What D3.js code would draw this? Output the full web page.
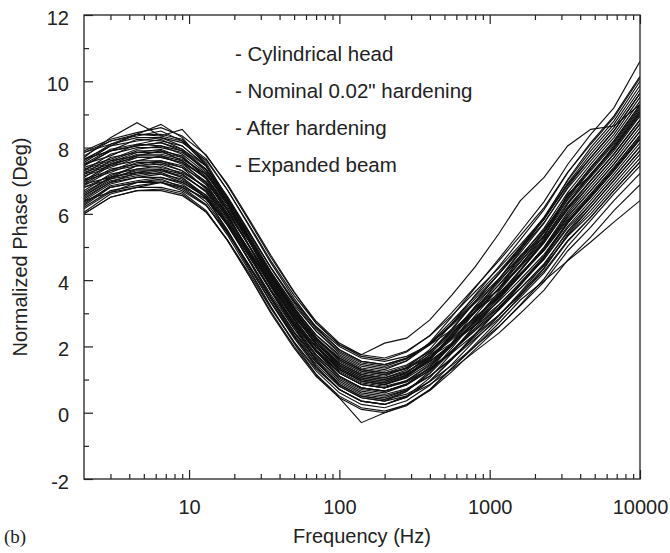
<!DOCTYPE html>
<html>
<head>
<meta charset="utf-8">
<script src="https://cdn.jsdelivr.net/npm/d3@7"></script>
<style>
  body { margin: 0; background: #fff; }
  .tick text { font-family: "Liberation Sans", Arial, sans-serif; font-size: 20px; fill: #222; }
  .domain { display: none; }
  .tick line { stroke: #222; stroke-width: 1.2; }
</style>
</head>
<body>
<div class="chart"></div>
<script>
// Frequencies (Hz) where each run was sampled
var freqs = [2, 3, 4.5, 6.5, 9, 13, 18, 25, 35, 50, 70, 100, 140, 200, 280, 400, 560, 800, 1150, 1600, 2300, 3300, 4700, 6700, 10000];

// Normalized phase (deg) of every measured run
var run01 = [7.9, 8.25, 8.45, 8.6, 8.35, 7.78, 6.86, 5.8, 4.69, 3.63, 2.76, 2.1, 1.75, 1.65, 1.86, 2.32, 2.93, 3.65, 4.36, 5.07, 5.88, 6.89, 7.7, 8.5, 9.64];
var run02 = [7.75, 8.2, 8.35, 8.5, 8.2, 7.66, 6.72, 5.64, 4.52, 3.45, 2.57, 1.9, 1.55, 1.45, 1.64, 2.07, 2.64, 3.31, 3.98, 4.66, 5.44, 6.42, 7.2, 8.0, 9.06];
var run03 = [7.6, 8.1, 8.3, 8.3, 8.15, 7.61, 6.72, 5.68, 4.58, 3.54, 2.7, 2.05, 1.7, 1.6, 1.83, 2.33, 3.02, 3.8, 4.58, 5.34, 6.19, 7.25, 8.1, 8.9, 10.1];
var run04 = [7.65, 7.9, 8.25, 8.2, 8.05, 7.44, 6.48, 5.39, 4.26, 3.18, 2.28, 1.6, 1.25, 1.15, 1.35, 1.79, 2.37, 3.06, 3.74, 4.43, 5.22, 6.21, 7.0, 7.8, 8.83];
var run05 = [7.5, 7.95, 8.1, 8.25, 7.95, 7.44, 6.53, 5.47, 4.37, 3.31, 2.46, 1.8, 1.45, 1.35, 1.57, 2.05, 2.69, 3.44, 4.18, 4.91, 5.74, 6.77, 7.6, 8.4, 9.52];
var run06 = [7.45, 7.9, 8.05, 8.15, 7.9, 7.32, 6.34, 5.23, 4.09, 3.0, 2.09, 1.4, 1.05, 0.95, 1.13, 1.54, 2.08, 2.72, 3.36, 4.02, 4.78, 5.74, 6.5, 7.3, 8.25];
var run07 = [7.3, 7.8, 8.0, 8.0, 7.85, 7.34, 6.48, 5.46, 4.38, 3.35, 2.53, 1.9, 1.55, 1.45, 1.65, 2.09, 2.67, 3.36, 4.04, 4.73, 5.52, 6.51, 7.3, 8.1, 9.18];
var run08 = [7.4, 7.65, 7.95, 8.05, 7.8, 7.22, 6.29, 5.22, 4.1, 3.04, 2.17, 1.5, 1.15, 1.05, 1.29, 1.82, 2.54, 3.36, 4.18, 4.96, 5.84, 6.92, 7.8, 8.6, 9.75];
var run09 = [7.2, 7.7, 7.85, 7.95, 7.7, 7.12, 6.14, 5.03, 3.89, 2.8, 1.89, 1.2, 0.85, 0.75, 0.93, 1.33, 1.85, 2.48, 3.1, 3.75, 4.5, 5.45, 6.2, 7.0, 7.91];
var run10 = [7.3, 7.55, 7.85, 7.85, 7.7, 7.18, 6.31, 5.28, 4.2, 3.16, 2.34, 1.7, 1.35, 1.25, 1.44, 1.86, 2.41, 3.07, 3.72, 4.39, 5.16, 6.13, 6.9, 7.7, 8.72];
var run11 = [7.1, 7.6, 7.75, 7.9, 7.6, 7.06, 6.12, 5.04, 3.92, 2.85, 1.97, 1.3, 0.95, 0.85, 1.08, 1.59, 2.28, 3.07, 3.86, 4.62, 5.48, 6.54, 7.4, 8.2, 9.29];
var run12 = [7.2, 7.45, 7.75, 7.75, 7.6, 7.08, 6.21, 5.19, 4.1, 3.07, 2.24, 1.6, 1.25, 1.15, 1.33, 1.73, 2.25, 2.88, 3.5, 4.15, 4.9, 5.85, 6.6, 7.4, 8.37];
var run13 = [7.0, 7.5, 7.7, 7.7, 7.55, 6.92, 5.94, 4.83, 3.69, 2.6, 1.69, 1.0, 0.65, 0.55, 0.72, 1.11, 1.62, 2.23, 2.84, 3.48, 4.22, 5.16, 5.9, 6.7, 7.57];
var run14 = [6.95, 7.45, 7.6, 7.75, 7.5, 6.97, 6.09, 5.05, 3.97, 2.92, 2.09, 1.45, 1.1, 1.0, 1.21, 1.68, 2.3, 3.02, 3.74, 4.46, 5.27, 6.29, 7.1, 7.9, 8.95];
var run15 = [7.05, 7.3, 7.6, 7.6, 7.45, 6.88, 5.96, 4.9, 3.79, 2.73, 1.86, 1.2, 0.85, 0.75, 0.96, 1.42, 2.03, 2.75, 3.46, 4.17, 4.98, 5.99, 6.8, 7.6, 8.6];
var run16 = [6.9, 7.35, 7.5, 7.6, 7.4, 6.95, 6.15, 5.18, 4.12, 3.13, 2.35, 1.75, 1.4, 1.3, 1.56, 2.12, 2.9, 3.77, 4.64, 5.46, 6.37, 7.49, 8.4, 9.2, 10.6];
var run17 = [6.85, 7.3, 7.45, 7.55, 7.3, 6.78, 5.86, 4.8, 3.69, 2.63, 1.76, 1.1, 0.75, 0.65, 0.84, 1.27, 1.84, 2.51, 3.18, 3.86, 4.64, 5.62, 6.4, 7.2, 8.14];
var run18 = [6.8, 7.15, 7.45, 7.5, 7.3, 6.79, 5.93, 4.91, 3.83, 2.8, 1.98, 1.35, 1.0, 0.9, 1.14, 1.65, 2.35, 3.15, 3.94, 4.71, 5.57, 6.64, 7.5, 8.3, 9.4];
var run19 = [6.7, 7.2, 7.35, 7.45, 7.2, 6.65, 5.7, 4.61, 3.49, 2.41, 1.53, 0.85, 0.5, 0.4, 0.56, 0.94, 1.43, 2.01, 2.6, 3.23, 3.95, 4.88, 5.6, 6.4, 7.22];
var run20 = [6.8, 7.05, 7.35, 7.35, 7.2, 6.68, 5.81, 4.79, 3.7, 2.67, 1.84, 1.2, 0.85, 0.75, 0.97, 1.45, 2.09, 2.84, 3.58, 4.31, 5.14, 6.17, 7.0, 7.8, 8.83];
var run21 = [6.6, 7.1, 7.3, 7.3, 7.15, 6.7, 5.9, 4.93, 3.88, 2.88, 2.1, 1.5, 1.15, 1.05, 1.24, 1.66, 2.21, 2.87, 3.52, 4.19, 4.96, 5.93, 6.7, 7.5, 8.49];
var run22 = [6.55, 7.05, 7.2, 7.3, 7.1, 6.55, 5.65, 4.6, 3.5, 2.45, 1.6, 0.95, 0.6, 0.5, 0.68, 1.1, 1.65, 2.3, 2.94, 3.6, 4.37, 5.34, 6.1, 6.9, 7.8];
var run23 = [6.5, 6.95, 7.25, 7.2, 7.05, 6.46, 5.52, 4.44, 3.32, 2.25, 1.37, 0.7, 0.35, 0.25, 0.5, 1.05, 1.8, 2.65, 3.5, 4.3, 5.2, 6.3, 7.2, 8.0, 9.06];
var run24 = [6.45, 6.95, 7.1, 7.2, 6.95, 6.5, 5.65, 4.64, 3.56, 2.54, 1.73, 1.1, 0.75, 0.65, 0.85, 1.29, 1.87, 2.56, 3.24, 3.93, 4.72, 5.71, 6.5, 7.3, 8.26];
var run25 = [6.4, 6.9, 7.1, 7.1, 6.95, 6.5, 5.7, 4.73, 3.68, 2.68, 1.9, 1.3, 0.95, 0.85, 1.1, 1.64, 2.37, 3.21, 4.04, 4.83, 5.72, 6.81, 7.7, 8.5, 9.64];
var run26 = [6.3, 6.85, 7.0, 7.1, 6.9, 6.36, 5.47, 4.43, 3.34, 2.29, 1.45, 0.8, 0.45, 0.35, 0.5, 0.85, 1.3, 1.85, 2.4, 3.0, 3.7, 4.6, 5.3, 6.1, 6.88];
var run27 = [6.25, 6.8, 6.95, 7.05, 6.8, 6.28, 5.36, 4.3, 3.19, 2.13, 1.26, 0.6, 0.25, 0.15, 0.36, 0.83, 1.46, 2.19, 2.92, 3.64, 4.46, 5.48, 6.3, 7.1, 8.03];
var run28 = [6.2, 6.7, 6.85, 6.95, 6.75, 6.26, 5.42, 4.42, 3.35, 2.33, 1.52, 0.9, 0.55, 0.45, 0.68, 1.18, 1.85, 2.63, 3.4, 4.15, 5.0, 6.05, 6.9, 7.7, 8.72];
var run29 = [6.05, 6.6, 6.8, 6.8, 6.65, 6.1, 5.2, 4.15, 3.05, 2.0, 1.15, 0.5, 0.15, 0.05, 0.24, 0.67, 1.24, 1.91, 2.58, 3.26, 4.04, 5.02, 5.8, 6.6, 7.45];
var run30 = [6.0, 6.5, 6.7, 6.7, 6.55, 6.06, 5.22, 4.22, 3.15, 2.13, 1.32, 0.7, 0.35, 0.25, 0.47, 0.96, 1.62, 2.38, 3.14, 3.88, 4.72, 5.76, 6.6, 7.4, 8.37];
var run31 = [7.7, 8.3, 8.75, 8.35, 8.55, 7.75, 6.9, 5.85, 4.75, 3.65, 2.7, 2.05, 1.75, 2.1, 2.25, 2.8, 3.55, 4.4, 5.4, 6.4, 7.1, 8.05, 8.55, 8.65, 9.3];
var run32 = [6.0, 6.5, 6.7, 6.75, 6.6, 6.05, 5.2, 4.15, 3.0, 1.95, 1.1, 0.45, -0.3, 0.0, 0.25, 0.7, 1.35, 2.0, 2.7, 3.4, 3.98, 4.58, 5.15, 5.75, 6.4];
var run33 = [7.5, 7.75, 8.1, 8.05, 7.9, 7.27, 6.29, 5.18, 4.04, 2.95, 2.04, 1.35, 1.0, 0.9, 1.12, 1.61, 2.27, 3.2, 3.7, 4.75, 5.3, 6.6, 7.15, 8.05, 9.12];
var run34 = [6.4, 6.65, 6.95, 6.95, 6.8, 6.45, 5.75, 4.85, 3.85, 2.9, 2.2, 1.65, 1.3, 1.2, 1.34, 1.68, 2.1, 2.63, 3.16, 3.75, 4.43, 5.32, 6.0, 6.8, 7.68];
var run35 = [7.65, 8.05, 8.4, 8.35, 8.2, 7.46, 6.37, 5.18, 3.98, 2.84, 1.85, 1.1, 0.75, 0.65, 0.87, 1.36, 2.02, 2.78, 3.54, 4.28, 5.12, 6.16, 7.0, 7.8, 8.83];
var run36 = [7.85, 8.2, 8.4, 8.7, 8.3, 7.48, 6.31, 5.06, 3.83, 2.64, 1.59, 0.8, 0.45, 0.35, 0.64, 1.26, 2.11, 3.07, 4.02, 4.89, 5.86, 7.03, 8.0, 8.8, 10.0];
var run37 = [7.55, 8.05, 8.2, 8.3, 8.05, 7.45, 6.45, 5.32, 4.18, 3.07, 2.15, 1.45, 1.1, 1.0, 1.17, 1.56, 2.06, 2.66, 3.26, 3.9, 4.63, 5.57, 6.3, 7.1, 8.03];
var run38 = [7.15, 7.4, 7.7, 7.7, 7.55, 7.09, 6.28, 5.3, 4.25, 3.24, 2.46, 1.85, 1.5, 1.4, 1.62, 2.1, 2.76, 3.51, 4.26, 5.0, 5.83, 6.87, 7.7, 8.5, 9.64];
var run39 = [6.9, 7.1, 7.45, 7.4, 7.25, 6.81, 6.02, 5.05, 4.01, 3.01, 2.25, 1.65, 1.3, 1.2, 1.4, 1.85, 2.45, 3.15, 3.85, 4.55, 5.35, 6.35, 7.15, 7.95, 9.0];
var run40 = [6.55, 7.0, 7.15, 7.25, 7.0, 6.57, 5.74, 4.74, 3.68, 2.66, 1.87, 1.25, 0.9, 0.8, 0.96, 1.33, 1.8, 2.37, 2.94, 3.56, 4.27, 5.19, 5.9, 6.7, 7.57];
var run41 = [7.35, 7.6, 7.9, 7.9, 7.75, 7.05, 6.0, 4.84, 3.66, 2.54, 1.58, 0.85, 0.5, 0.4, 0.65, 1.2, 1.95, 2.8, 3.65, 4.45, 5.35, 6.45, 7.35, 8.15, 9.23];
var run42 = [6.15, 6.65, 6.8, 6.95, 6.7, 6.25, 5.45, 4.47, 3.43, 2.42, 1.65, 1.05, 0.7, 0.6, 0.84, 1.38, 2.1, 2.93, 3.76, 4.55, 5.43, 6.52, 7.4, 8.2, 9.29];
var run43 = [7.45, 7.9, 8.05, 8.15, 7.95, 7.35, 6.4, 5.32, 4.19, 3.12, 2.23, 1.55, 1.2, 1.1, 1.36, 1.91, 2.68, 3.55, 4.41, 5.22, 6.13, 7.24, 8.15, 8.95, 10.15];
var run44 = [7.0, 7.25, 7.55, 7.55, 7.4, 6.74, 5.73, 4.6, 3.44, 2.34, 1.4, 0.7, 0.35, 0.25, 0.47, 0.95, 1.6, 2.36, 3.11, 3.85, 4.68, 5.72, 6.55, 7.35, 8.31];
var run45 = [7.25, 7.5, 7.8, 7.8, 7.65, 7.2, 6.4, 5.43, 4.38, 3.38, 2.6, 2.0, 1.65, 1.55, 1.7, 2.05, 2.5, 3.05, 3.6, 4.2, 4.9, 5.8, 6.5, 7.3, 8.25];
var run46 = [6.35, 6.8, 6.95, 7.0, 6.85, 6.44, 5.68, 4.74, 3.7, 2.73, 1.98, 1.4, 1.05, 0.95, 1.2, 1.75, 2.5, 3.35, 4.2, 5.0, 5.9, 7.0, 7.9, 8.7, 9.87];
var run47 = [7.85, 8.1, 8.4, 8.4, 8.25, 7.54, 6.48, 5.31, 4.13, 3.0, 2.03, 1.3, 0.95, 0.85, 1.05, 1.49, 2.07, 2.76, 3.44, 4.13, 4.92, 5.91, 6.7, 7.5, 8.49];
var run48 = [6.65, 7.1, 7.25, 7.35, 7.1, 6.49, 5.48, 4.35, 3.2, 2.09, 1.16, 0.45, 0.1, 0.0, 0.21, 0.69, 1.33, 2.06, 2.8, 3.53, 4.35, 5.38, 6.2, 7.0, 7.91];

var runs = [run01, run02, run03, run04, run05, run06, run07, run08, run09, run10,
  run11, run12, run13, run14, run15, run16, run17, run18, run19, run20,
  run21, run22, run23, run24, run25, run26, run27, run28, run29, run30,
  run31, run32, run33, run34, run35, run36, run37, run38, run39, run40,
  run41, run42, run43, run44, run45, run46, run47, run48];

// Axis ticks and notes
var xMajorTicks = [10, 100, 1000, 10000];
var xMinorTicks = [3, 4, 5, 6, 7, 8, 9, 20, 30, 40, 50, 60, 70, 80, 90,
  200, 300, 400, 500, 600, 700, 800, 900, 2000, 3000, 4000, 5000, 6000, 7000, 8000, 9000];
var yMajorTicks = [-2, 0, 2, 4, 6, 8, 10, 12];
var yMinorTicks = [-1, 1, 3, 5, 7, 9, 11];
var notes = ["- Cylindrical head", "- Nominal 0.02\" hardening", "- After hardening", "- Expanded beam"];

var svgWidth = 670;
var svgHeight = 553;
var margin = { top: 15, right: 30, bottom: 74, left: 84 };
var width = svgWidth - margin.left - margin.right;
var height = svgHeight - margin.top - margin.bottom;

var svg = d3
  .select(".chart")
  .append("svg")
  .attr("width", svgWidth)
  .attr("height", svgHeight)
  .style("display", "block");

svg.append("rect").attr("width", svgWidth).attr("height", svgHeight).attr("fill", "#fff");

var chart = svg.append("g")
  .attr("transform", "translate(" + margin.left + "," + margin.top + ")");

// Scales
var xLogScale = d3.scaleLog().domain([2, 10000]).range([0, width]);
var yLinearScale = d3.scaleLinear().domain([-2, 12]).range([height, 0]);

// Clip curves to the frame
chart.append("clipPath").attr("id", "plot-clip")
  .append("rect").attr("width", width).attr("height", height);

var line = d3.line()
  .x(function(d, i) { return xLogScale(freqs[i]); })
  .y(function(d) { return yLinearScale(d); });

chart.append("g")
  .attr("clip-path", "url(#plot-clip)")
  .selectAll("path")
  .data(runs)
  .enter()
  .append("path")
  .attr("d", line)
  .attr("fill", "none")
  .attr("stroke", "#111")
  .attr("stroke-width", 1.15)
  .attr("stroke-linejoin", "miter");

// Bottom axis, ticks point inward
chart.append("g")
  .attr("transform", "translate(0," + height + ")")
  .call(d3.axisBottom(xLogScale).tickValues(xMajorTicks).tickSize(-9).tickPadding(21)
    .tickFormat(function(d) { return String(d); }));

chart.append("g")
  .attr("transform", "translate(0," + height + ")")
  .call(d3.axisBottom(xLogScale).tickValues(xMinorTicks).tickSize(-5).tickFormat(""));

// Top axis, ticks only
chart.append("g")
  .call(d3.axisTop(xLogScale).tickValues(xMajorTicks).tickSize(-9).tickFormat(""));

chart.append("g")
  .call(d3.axisTop(xLogScale).tickValues(xMinorTicks).tickSize(-5).tickFormat(""));

// Left axis, plain hyphen for negative labels
chart.append("g")
  .call(d3.axisLeft(yLinearScale).tickValues(yMajorTicks).tickSize(-9).tickPadding(15)
    .tickFormat(function(d) { return String(d); }))
  .selectAll("text")
  .attr("dy", "0.45em");

chart.append("g")
  .call(d3.axisLeft(yLinearScale).tickValues(yMinorTicks).tickSize(-5).tickFormat(""));

// Frame
chart.append("rect")
  .attr("width", width)
  .attr("height", height)
  .attr("fill", "none")
  .attr("stroke", "#222")
  .attr("stroke-width", 1.3);

// Notes inside the plot
chart.selectAll(".note")
  .data(notes)
  .enter()
  .append("text")
  .attr("class", "note")
  .attr("x", 151)
  .attr("y", function(d, i) { return 46 + i * 37; })
  .style("font-family", "'Liberation Sans', Arial, sans-serif")
  .style("font-size", "20.5px")
  .style("fill", "#222")
  .text(function(d) { return d; });

// Axis labels
svg.append("text")
  .attr("x", margin.left + width / 2)
  .attr("y", 543)
  .attr("text-anchor", "middle")
  .style("font-family", "'Liberation Sans', Arial, sans-serif")
  .style("font-size", "20px")
  .style("fill", "#222")
  .text("Frequency (Hz)");

svg.append("text")
  .attr("transform", "translate(27," + (margin.top + height / 2) + ") rotate(-90)")
  .attr("text-anchor", "middle")
  .style("font-family", "'Liberation Sans', Arial, sans-serif")
  .style("font-size", "20px")
  .style("fill", "#222")
  .text("Normalized Phase (Deg)");

svg.append("text")
  .attr("x", 4)
  .attr("y", 543)
  .style("font-family", "'Liberation Serif', 'Times New Roman', serif")
  .style("font-size", "19px")
  .style("fill", "#222")
  .text("(b)");
</script>
</body>
</html>
